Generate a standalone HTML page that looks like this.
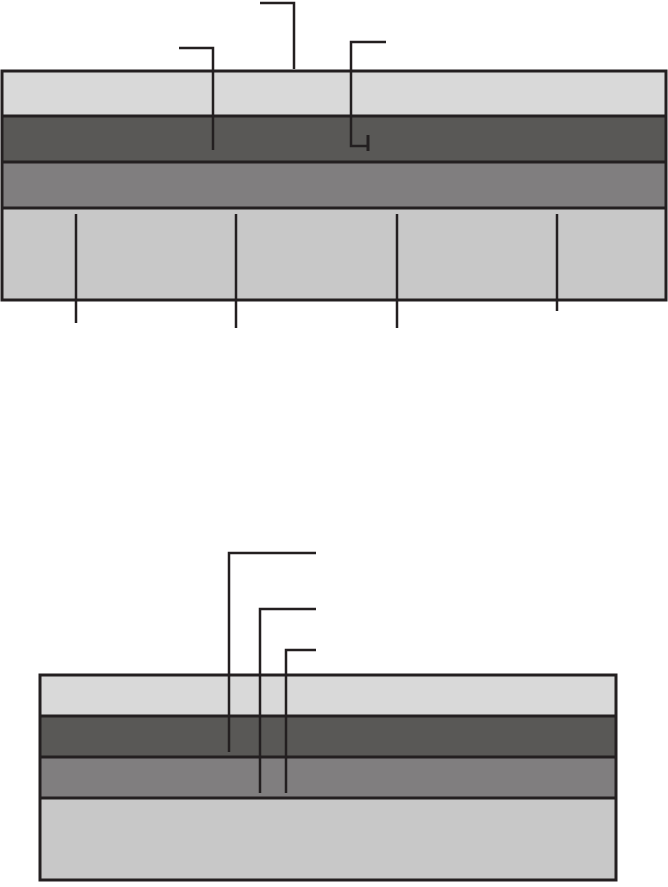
<!DOCTYPE html>
<html><head><style>html,body{margin:0;padding:0;background:#fff}</style></head>
<body>
<svg width="668" height="882" viewBox="0 0 668 882" xmlns="http://www.w3.org/2000/svg">
<g stroke="#231f20" stroke-width="3">
<rect x="2" y="71" width="664" height="45" fill="#d9d9d9"/>
<rect x="2" y="116" width="664" height="46" fill="#595856"/>
<rect x="2" y="162" width="664" height="46" fill="#807e7f"/>
<rect x="2" y="208" width="664" height="92" fill="#c8c8c8"/>
</g>
<g stroke="#231f20" stroke-width="2.5" fill="none">
<polyline points="179,48 213,48 213,150"/>
<polyline points="260,3 294,3 294,69"/>
<polyline points="386,42 351,42 351,146 368,146"/>
<line x1="368" y1="135" x2="368" y2="151" stroke-width="3"/>
<line x1="76" y1="214" x2="76" y2="323"/>
<line x1="236" y1="214" x2="236" y2="328"/>
<line x1="397" y1="214" x2="397" y2="328"/>
<line x1="557" y1="214" x2="557" y2="311"/>
</g>
<g stroke="#231f20" stroke-width="3">
<rect x="40" y="675" width="576" height="41" fill="#d9d9d9"/>
<rect x="40" y="716" width="576" height="41" fill="#595856"/>
<rect x="40" y="757" width="576" height="41" fill="#807e7f"/>
<rect x="40" y="798" width="576" height="82" fill="#c8c8c8"/>
</g>
<g stroke="#231f20" stroke-width="2.5" fill="none">
<polyline points="316,553 229,553 229,752"/>
<polyline points="316,609 260,609 260,793"/>
<polyline points="316,650 286,650 286,793"/>
</g>
</svg>
</body></html>
